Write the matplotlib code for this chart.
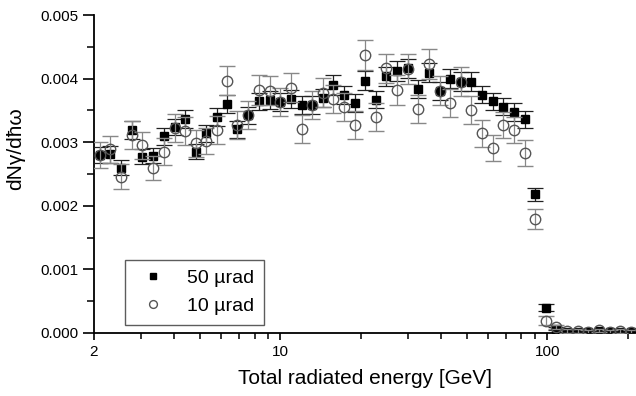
import matplotlib
matplotlib.use("Agg")
import matplotlib.pyplot as plt
from matplotlib.ticker import LogLocator, FixedLocator, NullFormatter, MultipleLocator, FormatStrFormatter

plt.rcParams['font.family'] = ['Liberation Sans', 'DejaVu Sans']

energy = [2.10, 2.30, 2.53, 2.77, 3.02, 3.32, 3.66, 4.01, 4.38, 4.81,
          5.27, 5.76, 6.28, 6.88, 7.57, 8.30, 9.13, 10.0, 10.97, 12.0,
          13.1, 14.4, 15.75, 17.3, 19.0, 20.8, 22.8, 24.9, 27.4, 30.0,
          32.9, 36.0, 39.5, 43.3, 47.5, 51.9, 56.9, 62.4, 68.2, 74.8,
          82.2, 90.2, 98.9, 107.8, 118.5, 129.9, 142.4, 156.2, 171.1, 187.7,
          205.8]

sq_vals = [2.80, 2.81, 2.60, 3.19, 2.77, 2.79, 3.09, 3.24, 3.37, 2.85,
           3.14, 3.40, 3.60, 3.20, 3.42, 3.64, 3.66, 3.63, 3.68, 3.58,
           3.58, 3.70, 3.90, 3.74, 3.62, 3.97, 3.67, 4.04, 4.12, 4.16,
           3.84, 4.09, 3.81, 4.00, 3.95, 3.95, 3.75, 3.64, 3.56, 3.48,
           3.36, 2.18, 0.40, 0.07, 0.02, 0.02, 0.01, 0.03, 0.01, 0.02,
           0.01]
sq_err = [0.13, 0.13, 0.12, 0.14, 0.12, 0.12, 0.13, 0.13, 0.14, 0.12,
          0.13, 0.14, 0.14, 0.13, 0.13, 0.14, 0.14, 0.14, 0.14, 0.14,
          0.14, 0.14, 0.15, 0.14, 0.14, 0.15, 0.14, 0.15, 0.15, 0.15,
          0.14, 0.15, 0.14, 0.15, 0.15, 0.15, 0.14, 0.14, 0.14, 0.14,
          0.13, 0.10, 0.05, 0.02, 0.02, 0.02, 0.02, 0.02, 0.02, 0.02,
          0.02]

ci_vals = [2.80, 2.89, 2.46, 3.11, 2.95, 2.60, 2.85, 3.22, 3.17, 2.98,
           3.02, 3.19, 3.97, 3.27, 3.43, 3.82, 3.81, 3.63, 3.86, 3.20,
           3.58, 3.78, 3.68, 3.56, 3.27, 4.37, 3.40, 4.16, 3.82, 4.15,
           3.52, 4.23, 3.81, 3.61, 3.95, 3.51, 3.14, 2.91, 3.27, 3.19,
           2.83, 1.79, 0.19, 0.10, 0.03, 0.03, 0.02, 0.04, 0.02, 0.03,
           0.02]
ci_err = [0.20, 0.21, 0.19, 0.22, 0.21, 0.19, 0.21, 0.22, 0.22, 0.21,
          0.21, 0.22, 0.23, 0.22, 0.22, 0.23, 0.23, 0.22, 0.23, 0.22,
          0.22, 0.23, 0.22, 0.22, 0.22, 0.24, 0.22, 0.23, 0.23, 0.23,
          0.22, 0.23, 0.23, 0.22, 0.23, 0.22, 0.21, 0.21, 0.21, 0.21,
          0.20, 0.16, 0.07, 0.03, 0.03, 0.03, 0.03, 0.03, 0.03, 0.03,
          0.03]

scale = 1e-3
sq_y = [v * scale for v in sq_vals]
sq_e = [v * scale for v in sq_err]
ci_y = [v * scale for v in ci_vals]
ci_e = [v * scale for v in ci_err]

fig = plt.figure(figsize=(6.36, 3.96), dpi=100)
ax = fig.add_axes([94/636, 63/396, 542/636, 318/396])

ax.errorbar(energy, sq_y, yerr=sq_e, fmt='s', color='black', ms=6,
            ecolor='#222222', elinewidth=0.9, capsize=6, capthick=0.9,
            label='50 µrad', zorder=3)
ax.errorbar(energy, ci_y, yerr=ci_e, fmt='o', mfc='none', mec='#555555', mew=1.0,
            ms=7.5, ecolor='#888888', elinewidth=0.9, capsize=6, capthick=0.9,
            label='10 µrad', zorder=4)

ax.set_xscale('log')
ax.set_xlim(2, 215)
ax.set_ylim(0, 0.005)

ax.xaxis.set_major_locator(FixedLocator([2, 10, 100]))
ax.xaxis.set_major_formatter(FormatStrFormatter('%g'))
ax.xaxis.set_minor_locator(LogLocator(base=10, subs=range(2, 10)))
ax.xaxis.set_minor_formatter(NullFormatter())
ax.yaxis.set_major_locator(MultipleLocator(0.001))
ax.yaxis.set_major_formatter(FormatStrFormatter('%.3f'))
ax.yaxis.set_minor_locator(MultipleLocator(0.0005))

for s in ['top', 'right']:
    ax.spines[s].set_visible(False)
for s in ['left', 'bottom']:
    ax.spines[s].set_linewidth(1.3)

ax.tick_params(axis='both', which='major', labelsize=11, width=1.2, direction='out')
ax.tick_params(axis='y', which='major', length=8)
ax.tick_params(axis='y', which='minor', length=5, width=1.1)
ax.tick_params(axis='x', which='major', length=5)
ax.tick_params(axis='x', which='minor', length=4, width=1.1)

ax.set_xlabel('Total radiated energy [GeV]', fontsize=15, labelpad=7)
ax.set_ylabel('dNγ/dħω', fontsize=15)
ax.yaxis.set_label_coords(-0.127, 0.58)

handles, labels = ax.get_legend_handles_labels()
handles = [h[0] for h in handles]
leg = ax.legend(handles, labels, loc='lower left', bbox_to_anchor=(31/542, 8/318),
                borderaxespad=0, fontsize=14, frameon=True, fancybox=False,
                edgecolor='#333333', handletextpad=0.83, borderpad=0.5,
                labelspacing=0.55, handlelength=1.85, markerscale=0.75)
leg.get_frame().set_linewidth(1.0)

fig.savefig('out.png', dpi=100)
